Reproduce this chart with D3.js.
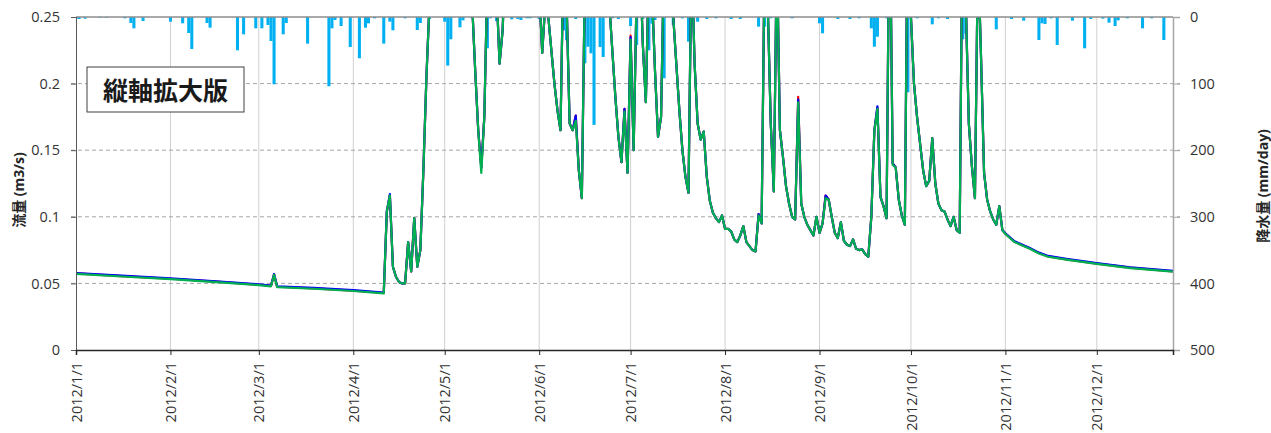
<!DOCTYPE html>
<html>
<head>
<meta charset="utf-8">
<script src="https://cdn.jsdelivr.net/npm/d3@7"></script>
<style>
  body { margin: 0; background: #fff; }
  text { font-family: "Open Sans", "Noto Sans CJK JP", sans-serif; }
</style>
</head>
<body>
<svg id="chart" width="1271" height="433"></svg>
<script>
// flow (m3/s); values above 0.25 are off the scale and get clipped
const flowDates = [
  "1/1","1/16","2/1","2/16","3/1","3/5","3/6","3/7","3/19","4/1",
  "4/11","4/12","4/13","4/14","4/15","4/16","4/17","4/18","4/19","4/20",
  "4/21","4/22","4/23","4/24","4/25","4/26","5/9","5/10","5/11","5/12",
  "5/13","5/14","5/15","5/18","5/19","5/20","5/21","6/1","6/2","6/3",
  "6/4","6/5","6/6","6/7","6/8","6/9","6/10","6/11","6/12","6/13",
  "6/14","6/15","6/16","6/24","6/25","6/26","6/27","6/28","6/29","6/30",
  "7/1","7/2","7/3","7/4","7/5","7/6","7/7","7/8","7/9","7/10",
  "7/11","7/12","7/15","7/16","7/17","7/18","7/19","7/20","7/21","7/22",
  "7/23","7/24","7/25","7/26","7/27","7/28","7/29","7/30","7/31","8/1",
  "8/2","8/3","8/4","8/5","8/6","8/7","8/8","8/9","8/10","8/11",
  "8/12","8/13","8/14","8/15","8/16","8/17","8/18","8/19","8/20","8/21",
  "8/22","8/23","8/24","8/25","8/26","8/27","8/28","8/29","8/30","8/31",
  "9/1","9/2","9/3","9/4","9/5","9/6","9/7","9/8","9/9","9/10",
  "9/11","9/12","9/13","9/14","9/15","9/16","9/17","9/18","9/19","9/20",
  "9/21","9/22","9/23","9/24","9/25","9/26","9/27","9/28","9/29","9/30",
  "10/1","10/2","10/3","10/4","10/5","10/6","10/7","10/8","10/9","10/10",
  "10/11","10/12","10/13","10/14","10/15","10/16","10/17","10/18","10/19","10/20",
  "10/21","10/22","10/23","10/24","10/25","10/26","10/27","10/28","10/29","10/30",
  "10/31","11/1","11/2","11/4","11/6","11/9","11/12","11/15","11/21","12/1",
  "12/12","12/26"
];
const flowGreen = [
  0.0572,0.0552,0.0532,0.0510,0.0487,0.0478,0.0565,0.0472,0.0460,0.0443,
  0.0425,0.104,0.116,0.0625,0.055,0.051,0.050,0.050,0.081,0.059,
  0.099,0.0625,0.075,0.135,0.205,0.26,0.30,0.26,0.21,0.165,
  0.133,0.175,0.28,0.27,0.215,0.24,0.30,0.27,0.223,0.26,
  0.25,0.225,0.20,0.18,0.165,0.30,0.26,0.17,0.165,0.172,
  0.135,0.114,0.28,0.26,0.225,0.19,0.16,0.141,0.179,0.133,
  0.233,0.15,0.27,0.30,0.23,0.186,0.29,0.27,0.21,0.16,
  0.175,0.30,0.25,0.215,0.18,0.15,0.13,0.118,0.30,0.215,
  0.17,0.158,0.164,0.13,0.112,0.103,0.099,0.096,0.101,0.091,
  0.091,0.089,0.083,0.081,0.086,0.093,0.081,0.078,0.075,0.074,
  0.101,0.095,0.30,0.26,0.17,0.119,0.30,0.165,0.145,0.123,
  0.11,0.10,0.098,0.186,0.11,0.10,0.094,0.09,0.086,0.10,
  0.088,0.095,0.114,0.113,0.10,0.088,0.084,0.096,0.082,0.079,
  0.078,0.083,0.076,0.075,0.0755,0.072,0.07,0.10,0.165,0.181,
  0.115,0.108,0.099,0.35,0.139,0.137,0.113,0.101,0.094,0.35,
  0.25,0.20,0.175,0.155,0.135,0.123,0.127,0.159,0.125,0.11,
  0.105,0.104,0.098,0.093,0.10,0.09,0.088,0.35,0.26,0.17,
  0.138,0.114,0.30,0.22,0.133,0.113,0.104,0.098,0.094,0.108,
  0.09,0.087,0.085,0.081,0.079,0.076,0.0725,0.070,0.0678,0.0646,
  0.0615,0.0588
];
const flowRed = [
  0.0575,0.0555,0.0535,0.0513,0.0490,0.0481,0.0568,0.0475,0.0463,0.0446,
  0.0428,0.104,0.116,0.0625,0.055,0.051,0.050,0.050,0.081,0.059,
  0.099,0.0625,0.075,0.135,0.205,0.26,0.30,0.26,0.21,0.165,
  0.137,0.175,0.28,0.27,0.215,0.24,0.30,0.27,0.223,0.26,
  0.25,0.225,0.20,0.18,0.165,0.30,0.26,0.17,0.165,0.176,
  0.135,0.114,0.28,0.26,0.225,0.19,0.16,0.141,0.181,0.133,
  0.236,0.15,0.27,0.30,0.23,0.186,0.29,0.27,0.21,0.16,
  0.175,0.30,0.25,0.215,0.18,0.15,0.13,0.118,0.30,0.215,
  0.17,0.158,0.164,0.13,0.112,0.103,0.099,0.096,0.101,0.091,
  0.091,0.089,0.083,0.081,0.086,0.093,0.081,0.078,0.075,0.074,
  0.102,0.095,0.30,0.26,0.17,0.119,0.30,0.165,0.145,0.123,
  0.11,0.10,0.098,0.190,0.11,0.10,0.094,0.09,0.086,0.10,
  0.088,0.095,0.116,0.113,0.10,0.088,0.084,0.096,0.082,0.079,
  0.078,0.083,0.076,0.075,0.0755,0.072,0.07,0.10,0.165,0.182,
  0.115,0.108,0.099,0.35,0.140,0.137,0.113,0.101,0.094,0.35,
  0.25,0.20,0.175,0.155,0.135,0.123,0.127,0.159,0.125,0.11,
  0.105,0.104,0.098,0.093,0.10,0.09,0.088,0.35,0.26,0.17,
  0.138,0.114,0.30,0.22,0.133,0.113,0.104,0.098,0.094,0.108,
  0.09,0.0873,0.0853,0.0813,0.0793,0.0763,0.0728,0.0703,0.0681,0.0649,
  0.0618,0.0591
];
const flowBlue = [
  0.0578,0.0558,0.0538,0.0516,0.0493,0.0484,0.0571,0.0478,0.0466,0.0449,
  0.0431,0.104,0.117,0.0625,0.055,0.051,0.050,0.050,0.081,0.059,
  0.099,0.0625,0.075,0.135,0.205,0.26,0.30,0.26,0.21,0.165,
  0.137,0.175,0.28,0.27,0.215,0.24,0.30,0.27,0.223,0.26,
  0.25,0.225,0.20,0.18,0.165,0.30,0.26,0.17,0.165,0.176,
  0.135,0.114,0.28,0.26,0.225,0.19,0.16,0.141,0.181,0.133,
  0.235,0.15,0.27,0.30,0.23,0.186,0.29,0.27,0.21,0.16,
  0.175,0.30,0.25,0.215,0.18,0.15,0.13,0.118,0.30,0.215,
  0.17,0.158,0.164,0.13,0.112,0.103,0.099,0.096,0.101,0.091,
  0.091,0.089,0.083,0.081,0.086,0.093,0.081,0.078,0.075,0.074,
  0.102,0.095,0.30,0.26,0.17,0.119,0.30,0.165,0.145,0.123,
  0.11,0.10,0.098,0.188,0.11,0.10,0.094,0.09,0.086,0.10,
  0.088,0.095,0.116,0.113,0.10,0.088,0.084,0.096,0.082,0.079,
  0.078,0.083,0.076,0.075,0.0755,0.072,0.07,0.10,0.165,0.183,
  0.115,0.108,0.099,0.35,0.140,0.137,0.113,0.101,0.094,0.35,
  0.25,0.20,0.175,0.155,0.135,0.123,0.127,0.159,0.125,0.11,
  0.105,0.104,0.098,0.093,0.10,0.09,0.088,0.35,0.26,0.17,
  0.138,0.114,0.30,0.22,0.133,0.113,0.104,0.098,0.094,0.108,
  0.09,0.0876,0.0856,0.0816,0.0796,0.0766,0.0731,0.0706,0.0684,0.0652,
  0.0621,0.0594
];

// daily rainfall (mm/day), only the days with rain
const rainDates = [
  "1/1","1/2","1/4","1/9","1/11","1/17","1/19","1/20","1/23","2/1",
  "2/5","2/7","2/8","2/13","2/14","2/23","2/25","2/29","3/2","3/4",
  "3/5","3/6","3/9","3/10","3/17","3/24","3/25","3/26","3/28","3/31",
  "4/3","4/5","4/6","4/8","4/11","4/13","4/14","4/18","4/22","4/23",
  "4/26","5/1","5/2","5/3","5/6","5/7","5/10","5/15","5/16","5/18",
  "5/20","5/23","5/25","5/26","5/28","5/29","6/1","6/9","6/10","6/13",
  "6/16","6/17","6/18","6/19","6/21","6/22","6/25","6/27","7/1","7/3",
  "7/5","7/7","7/8","7/9","7/12","7/15","7/18","7/20","7/23","7/26",
  "7/29","8/3","8/6","8/12","8/14","8/16","8/18","8/23","9/1","9/2",
  "9/7","9/11","9/14","9/18","9/19","9/20","9/23","9/30","10/3","10/8",
  "10/10","10/13","10/18","10/19","10/23","10/29","11/3","11/7","11/12","11/13",
  "11/14","11/16","11/18","11/23","11/27","11/29","12/3","12/5","12/7","12/8",
  "12/11","12/16","12/19","12/23"
];
const rainValues = [
  2,3,2.5,1,1,2,9,17,6,7,
  9.5,24,48,9,16,50,26,17,17,12,
  36,101,26,9,40,104,17,4.5,13.5,45,
  62,16,9.5,2,40,7,20,2,19.5,9,
  3,7,73,33.5,15.5,5,2,47,2,6,
  2,3.5,3,4.5,2,2,3,20,35,3,
  69.5,44.6,54.5,162,45,60,2,3,13.5,42,
  3,50,10,4.5,92,12,2,37,7,3,
  2,3,3,14.5,14.5,2,22,2,9.5,24.5,
  3,3,2,17,44.6,29.5,2,113,2,11,
  2,3,33.5,25,3,18.5,3,5.5,34.5,9.5,
  10.5,2,42,5.5,47,3,2.5,8.5,13.5,5,
  2,17,2,34.5
];

const flowTicks = [0, 0.05, 0.1, 0.15, 0.2, 0.25];
const rainTicks = [0, 100, 200, 300, 400, 500];
const colors = { red: "#ff0000", blue: "#0000ff", green: "#00b050", rain: "#00b0f0" };

const parse = d3.timeParse("%Y/%m/%d");
const toDate = s => parse("2012/" + s);

const svg = d3.select("#chart");
const pL = 76, pR = 1173, pT = 17, pB = 350;

const x = d3.scaleTime()
  .domain([new Date(2012, 0, 1), new Date(2012, 11, 26)])
  .range([pL, pR]);
const y = d3.scaleLinear().domain([0, 0.25]).range([pB, pT]);
const yRain = d3.scaleLinear().domain([0, 500]).range([pT, pB]);

// clip for the plot area
svg.append("clipPath").attr("id", "plot")
  .append("rect").attr("x", pL).attr("y", pT)
  .attr("width", pR - pL).attr("height", pB - pT);

// vertical grid at month starts
const months = d3.timeMonth.range(new Date(2012, 0, 1), new Date(2012, 11, 27));
svg.append("g").selectAll("line").data(months.slice(1)).enter().append("line")
  .attr("x1", d => x(d)).attr("x2", d => x(d))
  .attr("y1", pT).attr("y2", pB)
  .attr("stroke", "#d0d0d0").attr("stroke-width", 1);

// horizontal dashed grid
svg.append("g").selectAll("line").data(flowTicks.slice(1, -1)).enter().append("line")
  .attr("x1", pL - 5).attr("x2", pR + 7)
  .attr("y1", d => y(d)).attr("y2", d => y(d))
  .attr("stroke", "#a6a6a6").attr("stroke-dasharray", "4,3");

// rain bars hanging from the top
const dayW = x(new Date(2012, 0, 2)) - x(new Date(2012, 0, 1));
svg.append("g").attr("clip-path", "url(#plot)")
  .selectAll("rect").data(rainDates).enter().append("rect")
  .attr("x", d => x(toDate(d)) - dayW / 2)
  .attr("y", pT)
  .attr("width", dayW)
  .attr("height", (d, i) => yRain(rainValues[i]) - pT)
  .attr("fill", colors.rain);

// flow lines
const line = d3.line()
  .x(d => x(toDate(d[0])))
  .y(d => y(d[1]));
const lines = svg.append("g").attr("clip-path", "url(#plot)");
[["red", flowRed], ["blue", flowBlue], ["green", flowGreen]].forEach(function (s) {
  lines.append("path")
    .datum(flowDates.map((d, i) => [d, s[1][i]]))
    .attr("d", line)
    .attr("fill", "none")
    .attr("stroke", colors[s[0]])
    .attr("stroke-width", 2.2)
    .attr("stroke-linejoin", "round");
});

// frame: top in grey
svg.append("line").attr("x1", pL).attr("x2", pR).attr("y1", pT).attr("y2", pT)
  .attr("stroke", "#8c8c8c").attr("stroke-width", 1.5);

// left axis
const yAxis = svg.append("g").attr("transform", `translate(${pL},0)`)
  .call(d3.axisLeft(y).tickValues(flowTicks).tickSize(5).tickPadding(11)
    .tickFormat(d => d === 0 ? "0" : String(+d.toFixed(2))));
yAxis.select(".domain").attr("stroke", "#595959");
yAxis.selectAll(".tick line").attr("stroke", "#595959");

// right axis
const rAxis = svg.append("g").attr("transform", `translate(${pR},0)`)
  .call(d3.axisRight(yRain).tickValues(rainTicks).tickSize(7).tickPadding(10));
rAxis.select(".domain").attr("stroke", "#a6a6a6").attr("stroke-width", 1.5);
rAxis.selectAll(".tick line").attr("stroke", "#a6a6a6");

// bottom axis
const xAxis = svg.append("g").attr("transform", `translate(0,${pB})`)
  .call(d3.axisBottom(x).tickValues(months).tickSize(5)
    .tickFormat(d3.timeFormat("%Y/%-m/%-d")));
xAxis.select(".domain").attr("stroke", "#262626").attr("stroke-width", 1.5);
xAxis.selectAll(".tick line").attr("stroke", "#262626");
xAxis.selectAll(".tick text")
  .attr("transform", "rotate(-90)")
  .attr("text-anchor", "end")
  .attr("x", -12).attr("y", 0).attr("dy", "0.35em");

svg.selectAll(".tick text").attr("font-size", 14.5).attr("fill", "#333")
  .attr("font-family", "'Open Sans', sans-serif");

// axis titles
svg.append("text")
  .attr("transform", "translate(18,190) rotate(-90)")
  .attr("text-anchor", "middle").attr("dominant-baseline", "central")
  .attr("font-size", 14).attr("font-weight", "bold").attr("fill", "#262626")
  .text("流量 (m3/s)");
svg.append("text")
  .attr("transform", "translate(1262,186) rotate(-90)")
  .attr("text-anchor", "middle").attr("dominant-baseline", "central")
  .attr("font-size", 14).attr("font-weight", "bold").attr("fill", "#262626")
  .text("降水量 (mm/day)");

// note box
svg.append("rect").attr("x", 87).attr("y", 67).attr("width", 157).attr("height", 45)
  .attr("fill", "#fff").attr("stroke", "#404040").attr("stroke-width", 1);
svg.append("text").attr("x", 165.5).attr("y", 90)
  .attr("text-anchor", "middle").attr("dominant-baseline", "central")
  .attr("font-family", "'Noto Sans CJK JP', sans-serif")
  .attr("font-size", 25).attr("font-weight", "bold").attr("fill", "#1a1a1a")
  .text("縦軸拡大版");
</script>
</body>
</html>
